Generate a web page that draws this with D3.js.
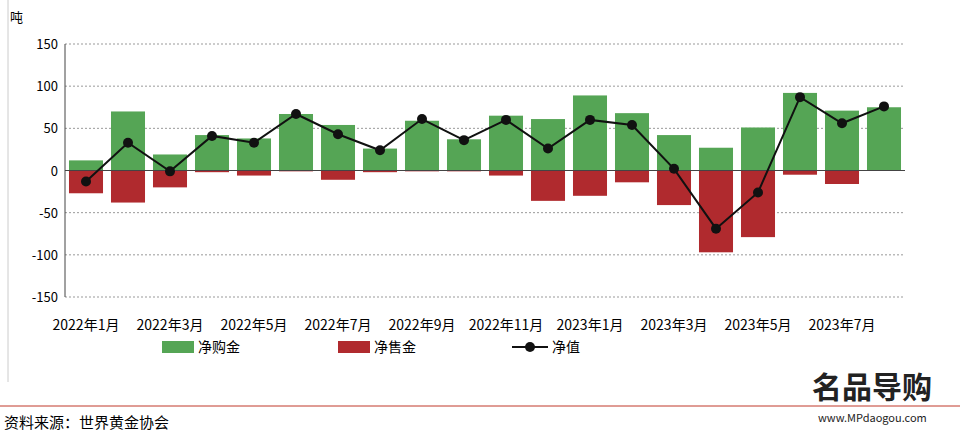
<!DOCTYPE html>
<html><head><meta charset="utf-8">
<script src="https://cdn.jsdelivr.net/npm/d3@7"></script>
<style>body{margin:0;background:#fff;font-family:"Noto Sans CJK SC","Noto Sans",sans-serif;}</style>
</head><body><svg id="c" width="960" height="444"></svg>
<script>
var months = ['2022年1月','2022年2月','2022年3月','2022年4月','2022年5月','2022年6月','2022年7月','2022年8月','2022年9月','2022年10月','2022年11月','2022年12月','2023年1月','2023年2月','2023年3月','2023年4月','2023年5月','2023年6月','2023年7月','2023年8月'];
var buys = [12,70,19,42,38,67,54,26,59,37,65,61,89,68,42,27,51,92,71,75];
var sells = [-27,-38,-20,-2,-6,-1,-11,-2,-1,-1,-6,-36,-30,-14,-41,-97,-79,-5,-16,0];
var net = [-13,33,-1,41,33,67,43,24,61,36,60,26,60,54,2,-69,-26,87,56,76];
var yTicks = [150,100,50,0,-50,-100,-150];

var svg = d3.select('#c');
var x = d3.scaleBand().domain(months).range([65,905]).paddingInner(0.19).paddingOuter(0.095);
var y = d3.scaleLinear().domain([-150,150]).range([297,44]);

svg.append('line').attr('x1',8).attr('x2',8).attr('y1',0).attr('y2',382).attr('stroke','#ccc');
svg.append('text').attr('x',10).attr('y',22).attr('font-size',13).text('吨');

svg.selectAll('.grid').data(yTicks.filter(function(d){return d!==0;})).enter().append('line')
  .attr('x1',65).attr('x2',905).attr('y1',function(d){return y(d);}).attr('y2',function(d){return y(d);})
  .attr('stroke','#999').attr('stroke-dasharray','2,2');
svg.selectAll('.yl').data(yTicks).enter().append('text')
  .attr('x',58).attr('y',function(d){return y(d)+5;}).attr('text-anchor','end').attr('font-size',13).text(function(d){return d;});

svg.selectAll('.b').data(buys).enter().append('rect')
  .attr('x',function(d,i){return x(months[i]);}).attr('width',x.bandwidth())
  .attr('y',function(d){return y(d);}).attr('height',function(d){return y(0)-y(d);}).attr('fill','#55a555');
svg.selectAll('.s').data(sells).enter().append('rect')
  .attr('x',function(d,i){return x(months[i]);}).attr('width',x.bandwidth())
  .attr('y',y(0)).attr('height',function(d){return y(d)-y(0);}).attr('fill','#b02a2e');

svg.append('line').attr('x1',65).attr('x2',905).attr('y1',y(0)).attr('y2',y(0)).attr('stroke','#444');
svg.append('line').attr('x1',65).attr('x2',65).attr('y1',44).attr('y2',297).attr('stroke','#444');

var cx = function(i){return x(months[i])+x.bandwidth()/2;};
svg.append('path').datum(net).attr('fill','none').attr('stroke','#111').attr('stroke-width',2)
  .attr('d',d3.line().x(function(d,i){return cx(i);}).y(function(d){return y(d);}));
svg.selectAll('.p').data(net).enter().append('circle')
  .attr('cx',function(d,i){return cx(i);}).attr('cy',function(d){return y(d);}).attr('r',5).attr('fill','#111');

svg.selectAll('.xl').data(months.filter(function(d,i){return i%2===0;})).enter().append('text')
  .attr('x',function(d){return x(d)+x.bandwidth()/2;}).attr('y',330).attr('text-anchor','middle')
  .attr('font-size',14).text(function(d){return d;});

var lg = svg.append('g').attr('font-size',14);
lg.append('rect').attr('x',162).attr('y',341).attr('width',32).attr('height',12).attr('fill','#55a555');
lg.append('text').attr('x',198).attr('y',352).text('净购金');
lg.append('rect').attr('x',338).attr('y',341).attr('width',32).attr('height',12).attr('fill','#b02a2e');
lg.append('text').attr('x',374).attr('y',352).text('净售金');
lg.append('line').attr('x1',512).attr('x2',548).attr('y1',347).attr('y2',347).attr('stroke','#111').attr('stroke-width',2);
lg.append('circle').attr('cx',530).attr('cy',347).attr('r',5).attr('fill','#111');
lg.append('text').attr('x',552).attr('y',352).text('净值');

svg.append('line').attr('x1',0).attr('x2',960).attr('y1',406).attr('y2',406).attr('stroke','#c0392b');
svg.append('text').attr('x',4).attr('y',428).attr('font-size',15).text('资料来源：世界黄金协会');
svg.append('text').attr('x',812).attr('y',398).attr('font-size',30).attr('font-weight','bold').attr('fill','#222').text('名品导购');
svg.append('text').attr('x',818).attr('y',422).attr('font-size',11).attr('fill','#222').text('www.MPdaogou.com');
</script></body></html>
